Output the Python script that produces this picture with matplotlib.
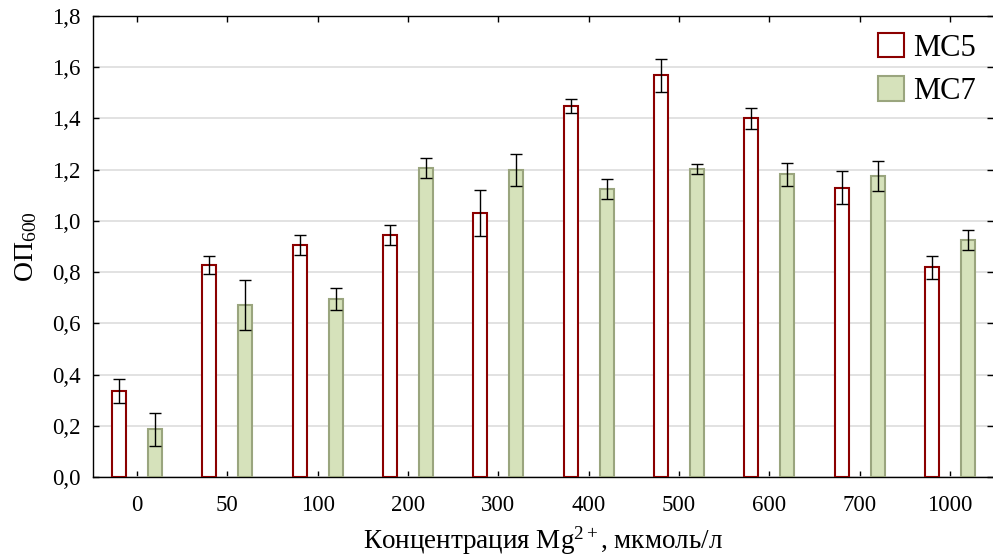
import numpy as np
import matplotlib
matplotlib.use('Agg')
import matplotlib.pyplot as plt
from matplotlib.ticker import FuncFormatter, MultipleLocator

plt.rcParams['font.family'] = ['Liberation Serif', 'DejaVu Serif']
plt.rcParams['mathtext.fontset'] = 'custom'
plt.rcParams['mathtext.rm'] = 'Liberation Serif'
plt.rcParams['mathtext.it'] = 'Liberation Serif:italic'

# данные
conc = ['0', '50', '100', '200', '300', '400', '500', '600', '700', '1000']
mc5 = [0.337, 0.827, 0.905, 0.945, 1.032, 1.450, 1.568, 1.400, 1.130, 0.818]
mc5_err = [0.047, 0.034, 0.038, 0.040, 0.090, 0.027, 0.063, 0.042, 0.066, 0.043]
mc7 = [0.186, 0.671, 0.696, 1.206, 1.198, 1.124, 1.202, 1.182, 1.175, 0.925]
mc7_err = [0.065, 0.097, 0.043, 0.040, 0.063, 0.039, 0.020, 0.045, 0.057, 0.039]

x = np.arange(len(conc))
w = 0.155
off = 0.2

fig = plt.figure(figsize=(9.93, 5.59), dpi=100)
ax = fig.add_axes([0.0937, 0.1467, 0.9063, 0.8247])

ax.bar(x - off, mc5, w, color='white', edgecolor='#8b0000', linewidth=1.5,
       label='MC5', zorder=3)
ax.bar(x + off, mc7, w, color='#d6e2bb', edgecolor='#9aa57e', linewidth=1.5,
       label='MC7', zorder=3)
ax.errorbar(x - off, mc5, yerr=mc5_err, fmt='none', ecolor='black',
            elinewidth=1, capsize=4, capthick=1, zorder=4)
ax.errorbar(x + off, mc7, yerr=mc7_err, fmt='none', ecolor='black',
            elinewidth=1, capsize=4, capthick=1, zorder=4)

ax.set_xlim(-0.487, 9.476)
ax.set_ylim(0, 1.8)
ax.yaxis.set_major_locator(MultipleLocator(0.2))
ax.yaxis.set_major_formatter(FuncFormatter(lambda v, p: f'{v:.1f}'.replace('.', ',')))
ax.set_xticks(x)
ax.set_xticklabels(conc)
ax.grid(axis='y', color='#dddddd', linewidth=1.2, zorder=0)
ax.set_axisbelow(True)

ax.spines['right'].set_visible(False)
for s in ['left', 'bottom', 'top']:
    ax.spines[s].set_linewidth(1.0)
ax.tick_params(axis='both', direction='in', length=4, width=1,
               labelsize=16.5, top=True, right=True)
ax.tick_params(axis='x', pad=13)
ax.tick_params(axis='y', pad=9)

ax.set_xlabel(r'Концентрация Mg$^{2+}$, мкмоль/л', fontsize=19.5, labelpad=6)
ax.set_ylabel(r'ОП$_{600}$', fontsize=20, labelpad=9)

ax.legend(loc='upper right', frameon=False, fontsize=22, handlelength=0.85,
          handleheight=0.85, handletextpad=0.3, labelspacing=0.45,
          borderaxespad=0.15)

plt.savefig('out.png', dpi=100)
